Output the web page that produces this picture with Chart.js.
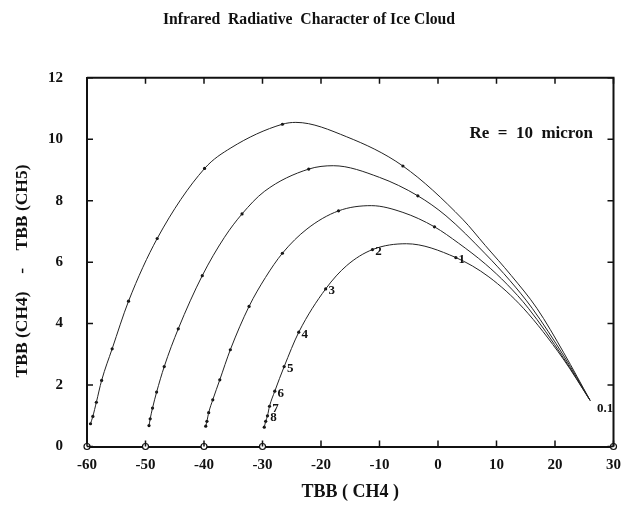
<!DOCTYPE html>
<html>
<head>
<meta charset="utf-8">
<script src="https://cdn.jsdelivr.net/npm/chart.js@4.4.1/dist/chart.umd.min.js"></script>
<style>
  body { margin: 0; background: #fff; }
  canvas { display: block; }
</style>
</head>
<body>
<canvas id="iceChart" width="631" height="505"></canvas>
<script>
// curve for cloud temperature -60 (TBB CH4, TBB CH4 - CH5)
const tbb60 = [-59.4, -59.0, -58.4, -57.5, -55.7, -52.9, -48.0, -39.9, -35.4, -26.6, -24.3, -15.6, -6.0, 4.2, 8.1, 12.5, 16.9, 21.5, 26.0];
const btd60 = [0.74, 0.98, 1.44, 2.15, 3.18, 4.73, 6.77, 9.05, 9.72, 10.49, 10.55, 10.08, 9.13, 7.4, 6.54, 5.57, 4.5, 3.05, 1.5];

// -50
const tbb50 = [-49.4, -49.2, -48.8, -48.1, -46.8, -44.4, -40.3, -36.5, -33.5, -29.7, -22.1, -17.9, -10.0, -3.45, 1.36, 8.1, 12.3, 16.1, 21.5, 26.0];
const btd50 = [0.68, 0.90, 1.25, 1.77, 2.60, 3.83, 5.56, 6.81, 7.57, 8.3, 9.03, 9.14, 8.76, 8.16, 7.51, 6.27, 5.4, 4.5, 2.95, 1.5];

// -40
const tbb40 = [-39.7, -39.5, -39.2, -38.5, -37.3, -35.5, -32.3, -29.5, -26.6, -22.4, -17.0, -11.4, -6.0, -0.6, 3.5, 8.1, 11.8, 15.45, 21.4, 26.0];
const btd40 = [0.66, 0.82, 1.10, 1.52, 2.17, 3.15, 4.56, 5.5, 6.29, 7.08, 7.67, 7.84, 7.62, 7.15, 6.62, 5.94, 5.28, 4.5, 2.9, 1.5];

// -30
const tbb30 = [-29.7, -29.45, -29.15, -28.8, -27.9, -26.3, -23.8, -19.2, -15.6, -11.2, -5.4, 3.05, 8.7, 14.6, 21.3, 26.0];
const btd30 = [0.63, 0.82, 1.0, 1.31, 1.80, 2.60, 3.72, 5.13, 5.89, 6.41, 6.6, 6.15, 5.52, 4.5, 2.88, 1.5];

// marked dots on each curve (indexes into the arrays above)
const dots60 = [0, 1, 2, 3, 4, 5, 6, 7, 9, 12];
const dots50 = [0, 1, 2, 3, 4, 5, 6, 8, 10, 13];
const dots40 = [0, 1, 2, 3, 4, 5, 6, 8, 10, 13];
const dots30 = [0, 1, 2, 3, 4, 5, 6, 7, 9, 11];

// optical depth labels on the -30 curve
const tauLabels = ['8', '7', '6', '5', '4', '3', '2', '1'];
const tauIndex = [2, 3, 4, 5, 6, 7, 9, 11];

// circles on the bottom axis
const baseTbb = [-60, -50, -40, -30, 30];

const xTicks = [-60, -50, -40, -30, -20, -10, 0, 10, 20, 30];
const yTicks = [0, 2, 4, 6, 8, 10, 12];

const serif = '"Liberation Serif", "Times New Roman", serif';
const ink = '#111';

function toPoints(xs, ys) {
    return xs.map((x, i) => ({ x: x, y: ys[i] }));
}

function curveSet(xs, ys) {
    return {
        data: toPoints(xs, ys),
        showLine: true,
        borderColor: '#222',
        borderWidth: 1,
        cubicInterpolationMode: 'monotone',
        pointRadius: 0
    };
}

function dotSet(xs, ys, idx) {
    return {
        data: idx.map(i => ({ x: xs[i], y: ys[i] })),
        showLine: false,
        pointRadius: 1.6,
        pointBackgroundColor: ink,
        pointBorderWidth: 0
    };
}

// ticks pointing inwards on all four sides, plus top / right frame
const framePlugin = {
    id: 'frame',
    afterDatasetsDraw(chart) {
        const { ctx, chartArea: a, scales: { x, y } } = chart;
        ctx.save();
        ctx.strokeStyle = ink;
        ctx.lineWidth = 2;
        ctx.beginPath();
        ctx.moveTo(a.left, a.top);
        ctx.lineTo(a.right, a.top);
        ctx.lineTo(a.right, a.bottom);
        ctx.stroke();
        ctx.lineWidth = 1.5;
        ctx.beginPath();
        xTicks.forEach(v => {
            const px = x.getPixelForValue(v);
            ctx.moveTo(px, a.bottom);
            ctx.lineTo(px, a.bottom - 6);
            ctx.moveTo(px, a.top);
            ctx.lineTo(px, a.top + 6);
        });
        yTicks.forEach(v => {
            const py = y.getPixelForValue(v);
            ctx.moveTo(a.left, py);
            ctx.lineTo(a.left + 6, py);
            ctx.moveTo(a.right, py);
            ctx.lineTo(a.right - 6, py);
        });
        ctx.stroke();

        // labels
        ctx.fillStyle = ink;
        ctx.font = 'bold 13px ' + serif;
        ctx.textAlign = 'center';
        ctx.textBaseline = 'middle';
        tauIndex.forEach((i, k) => {
            const px = x.getPixelForValue(tbb30[i]);
            const py = y.getPixelForValue(btd30[i]);
            ctx.fillText(tauLabels[k], px + 6, py + 2);
        });
        const last = tbb30.length - 1;
        ctx.textAlign = 'left';
        ctx.fillText('0.1', x.getPixelForValue(tbb30[last]) + 7, y.getPixelForValue(btd30[last]) + 8);

        ctx.font = 'bold 17px ' + serif;
        ctx.textAlign = 'right';
        ctx.fillText('Re  =  10  micron', x.getPixelForValue(26.5), y.getPixelForValue(10.2));
        ctx.restore();
    }
};

const ctx = document.getElementById('iceChart').getContext('2d');
const iceChart = new Chart(ctx, {
    type: 'scatter',
    data: {
        datasets: [
            curveSet(tbb60, btd60),
            curveSet(tbb50, btd50),
            curveSet(tbb40, btd40),
            curveSet(tbb30, btd30),
            dotSet(tbb60, btd60, dots60),
            dotSet(tbb50, btd50, dots50),
            dotSet(tbb40, btd40, dots40),
            dotSet(tbb30, btd30, dots30),
            {
                data: baseTbb.map(v => ({ x: v, y: 0 })),
                pointRadius: 3,
                pointBackgroundColor: '#fff',
                pointBorderColor: ink,
                pointBorderWidth: 1.2,
                clip: false
            }
        ]
    },
    options: {
        responsive: false,
        animation: false,
        layout: { padding: { top: 0, right: 13, left: 0, bottom: 0 } },
        plugins: {
            legend: { display: false },
            tooltip: { enabled: false },
            title: {
                display: true,
                text: 'Infrared  Radiative  Character of Ice Cloud',
                color: ink,
                font: { family: serif, size: 15.7, weight: 'bold' },
                padding: { top: 11, bottom: 48 }
            }
        },
        scales: {
            x: {
                type: 'linear',
                min: -60,
                max: 30,
                afterBuildTicks: s => { s.ticks = xTicks.map(v => ({ value: v })); },
                afterFit: s => { s.height = 58.5; },
                grid: { display: false, drawTicks: false },
                border: { display: true, width: 2, color: ink },
                ticks: { color: ink, padding: 10, font: { family: serif, size: 15, weight: 'bold' } },
                title: {
                    display: true,
                    text: 'TBB ( CH4 )',
                    color: ink,
                    padding: { top: 0, bottom: 2 },
                    font: { family: serif, size: 18, weight: 'bold' }
                }
            },
            y: {
                type: 'linear',
                min: 0,
                max: 12,
                afterBuildTicks: s => { s.ticks = yTicks.map(v => ({ value: v })); },
                afterFit: s => { s.width = 87; },
                grid: { display: false, drawTicks: false },
                border: { display: true, width: 2, color: ink },
                ticks: { color: ink, padding: 24, font: { family: serif, size: 15, weight: 'bold' } },
                title: {
                    display: true,
                    text: 'TBB (CH4)    -    TBB (CH5)    ',
                    color: ink,
                    padding: { top: 12, bottom: 0 },
                    font: { family: serif, size: 17.5, weight: 'bold' }
                }
            }
        }
    },
    plugins: [framePlugin]
});
</script>
</body>
</html>
